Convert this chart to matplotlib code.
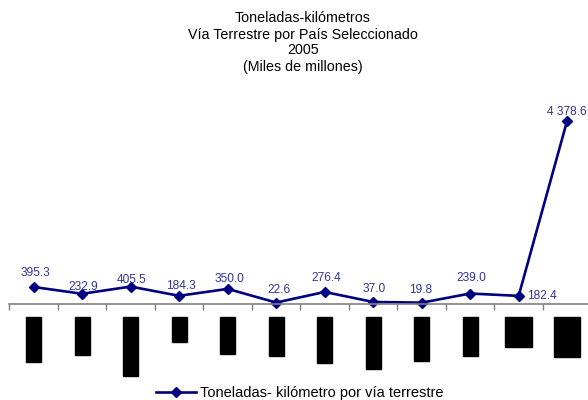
import numpy as np
import matplotlib
matplotlib.use("Agg")
import matplotlib.pyplot as plt

plt.rcParams['font.family'] = ['Liberation Sans', 'DejaVu Sans']

# data (billions of ton-km, 2005)
paises = ["Alemania", "España", "Corea del S.", "Italia", "Francia", "Hungría",
          "Argentina", "Dinamarca", "Finlandia", "Canadá", "Reino\nUnido", "Estados\nUnidos"]
valores = [395.3, 232.9, 405.5, 184.3, 350.0, 22.6, 276.4, 37.0, 19.8, 239.0, 182.4, 4378.6]
etiquetas = ["395.3", "232.9", "405.5", "184.3", "350.0", "22.6", "276.4", "37.0", "19.8",
             "239.0", "182.4", "4 378.6"]
serie = "Toneladas- kilómetro por vía terrestre"

# label offsets in points (dx, dy) relative to each marker
offs = [(1, 10), (1, 5), (1, 5), (1, 7), (1, 7), (2, 9), (1, 10), (1, 9), (-1, 9), (1, 11), (17, 0), (0, 6)]

azul = "#000080"
azul_txt = "#333399"

fig = plt.figure(figsize=(5.88, 4.0), dpi=100)
ax = fig.add_axes([9.4 / 588, 1 - 303.5 / 400, 582 / 588, 208.8 / 400])

x = np.arange(len(valores))
ax.plot(x, valores, color=azul, lw=1.9, marker='D', markersize=5, label=serie, clip_on=False)

for i in range(len(valores)):
    ax.annotate(etiquetas[i], (x[i], valores[i]), xytext=offs[i], textcoords='offset points',
                ha='center', va='center', fontsize=8.6, color=azul_txt)

ax.set_xlim(-0.5, 11.5)
ax.set_ylim(0, 5000)

# category boundaries get the ticks, centres get the (blacked out) names
ax.set_xticks(x - 0.5)
ax.set_xticklabels([])
ax.set_xticks(x, minor=True)
ax.set_xticklabels(paises, minor=True, rotation=90, fontsize=7, va='top', ha='center')
ax.tick_params(axis='x', which='major', length=4, color='#808080', width=1)
ax.tick_params(axis='x', which='minor', length=0, pad=11.5)
for t in ax.get_xticklabels(minor=True):
    t.set_color('black')
    t.set_bbox(dict(boxstyle='square,pad=0.25', facecolor='black', edgecolor='black'))

ax.set_yticks([])
for s in ['top', 'right', 'left']:
    ax.spines[s].set_visible(False)
ax.spines['bottom'].set_color('#808080')
ax.spines['bottom'].set_linewidth(1.2)
ax.patch.set_alpha(0)

titulo = ["Toneladas-kilómetros", "Vía Terrestre por País Seleccionado", "2005", "(Miles de millones)"]
for k, linea in enumerate(titulo):
    fig.text(303 / 588, 1 - (18.5 + 16 * k) / 400, linea, ha='center', va='center', fontsize=10.3)

fig.legend(loc='center', bbox_to_anchor=(300 / 588, 1 - 393 / 400), frameon=False,
           fontsize=10.5, handlelength=2.7, handletextpad=0.3)

fig.savefig("out.png", dpi=100)
